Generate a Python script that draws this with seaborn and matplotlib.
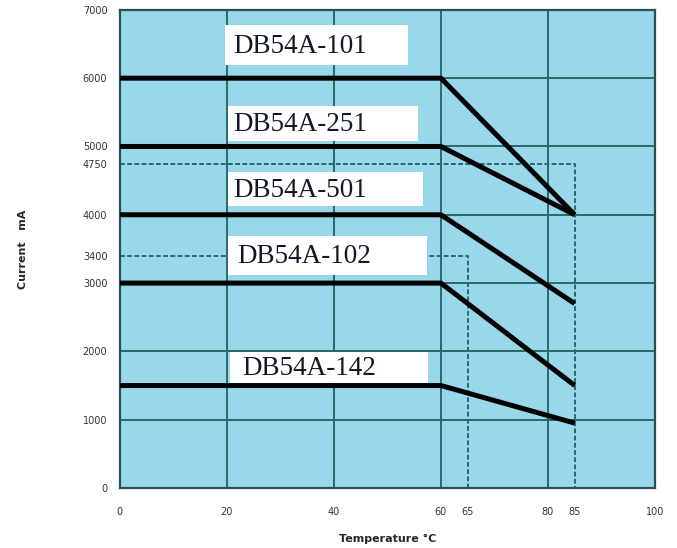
import pandas as pd
import seaborn as sns
import matplotlib.pyplot as plt
from matplotlib.patches import Rectangle

# Datos
temps = [0, 60, 85]
models = ["DB54A-101", "DB54A-251", "DB54A-501", "DB54A-102", "DB54A-142"]
current_101 = [6000, 6000, 4000]
current_251 = [5000, 5000, 4000]
current_501 = [4000, 4000, 2700]
current_102 = [3000, 3000, 1500]
current_142 = [1500, 1500, 950]

x_ticks = [0, 20, 40, 60, 65, 80, 85, 100]
y_ticks = [0, 1000, 2000, 3000, 3400, 4000, 4750, 5000, 6000, 7000]
ref_currents = [4750, 3400]
ref_temps = [85, 65]

series = [current_101, current_251, current_501, current_102, current_142]
df = pd.DataFrame(
    [(m, t, c) for m, vals in zip(models, series) for t, c in zip(temps, vals)],
    columns=["model", "temp", "current"],
)

# Cajas de etiquetas (x0, x1, y0, y1) en coordenadas de datos
boxes = [
    (19.6, 53.8, 6190, 6780),
    (20.2, 55.7, 5080, 5590),
    (20.2, 56.6, 4130, 4630),
    (20.2, 57.4, 3120, 3690),
    (20.6, 57.6, 1540, 1990),
]
text_x = [21.2, 21.2, 21.2, 21.9, 22.9]

bg = "#99d8ea"
grid_c = "#2d6868"

sns.set_theme(style="white")
plt.rcParams["font.family"] = ["DejaVu Sans"]

fig = plt.figure(figsize=(6.77, 5.48), dpi=100)
ax = fig.add_axes([0.177, 0.1095, 0.7905, 0.8725])
ax.set_facecolor(bg)

# Rejilla
for xv in [20, 40, 60, 80]:
    ax.axvline(xv, color=grid_c, lw=1.4, zorder=1)
for yv in [1000, 2000, 3000, 4000, 5000, 6000]:
    ax.axhline(yv, color=grid_c, lw=1.4, zorder=1)

# Lineas de referencia punteadas
for yc, xt in zip(ref_currents, ref_temps):
    ax.plot([0, xt, xt], [yc, yc, 0], color=grid_c, lw=1.4,
            linestyle=(0, (2.5, 1.2)), zorder=2)

sns.lineplot(data=df, x="temp", y="current", hue="model",
             palette=["black"] * len(models), linewidth=3.6,
             legend=False, ax=ax, zorder=4)
for line in ax.get_lines():
    line.set_solid_capstyle("butt")

for (x0, x1, y0, y1), tx, name in zip(boxes, text_x, models):
    ax.add_patch(Rectangle((x0, y0), x1 - x0, y1 - y0, facecolor="white",
                           edgecolor="none", zorder=5))
    ax.text(tx, (y0 + y1) / 2 - 20, name, family="Liberation Serif",
            fontsize=19.5, color="#101828", ha="left", va="center", zorder=6)

ax.set_xlim(0, 100)
ax.set_ylim(0, 7000)
ax.set_xticks(x_ticks)
ax.set_yticks(y_ticks)
ax.tick_params(axis="x", length=0, pad=14, labelsize=7, labelcolor="#333333")
ax.tick_params(axis="y", length=0, pad=9, labelsize=7, labelcolor="#333333")
for s in ax.spines.values():
    s.set_color("#2a4f55")
    s.set_linewidth(1.6)

ax.set_xlabel("Temperature °C", fontsize=8, fontweight="bold", labelpad=12)
ax.set_ylabel("Current   mA", fontsize=8, fontweight="bold", labelpad=39)

fig.savefig("out.png", dpi=100, facecolor="white")
